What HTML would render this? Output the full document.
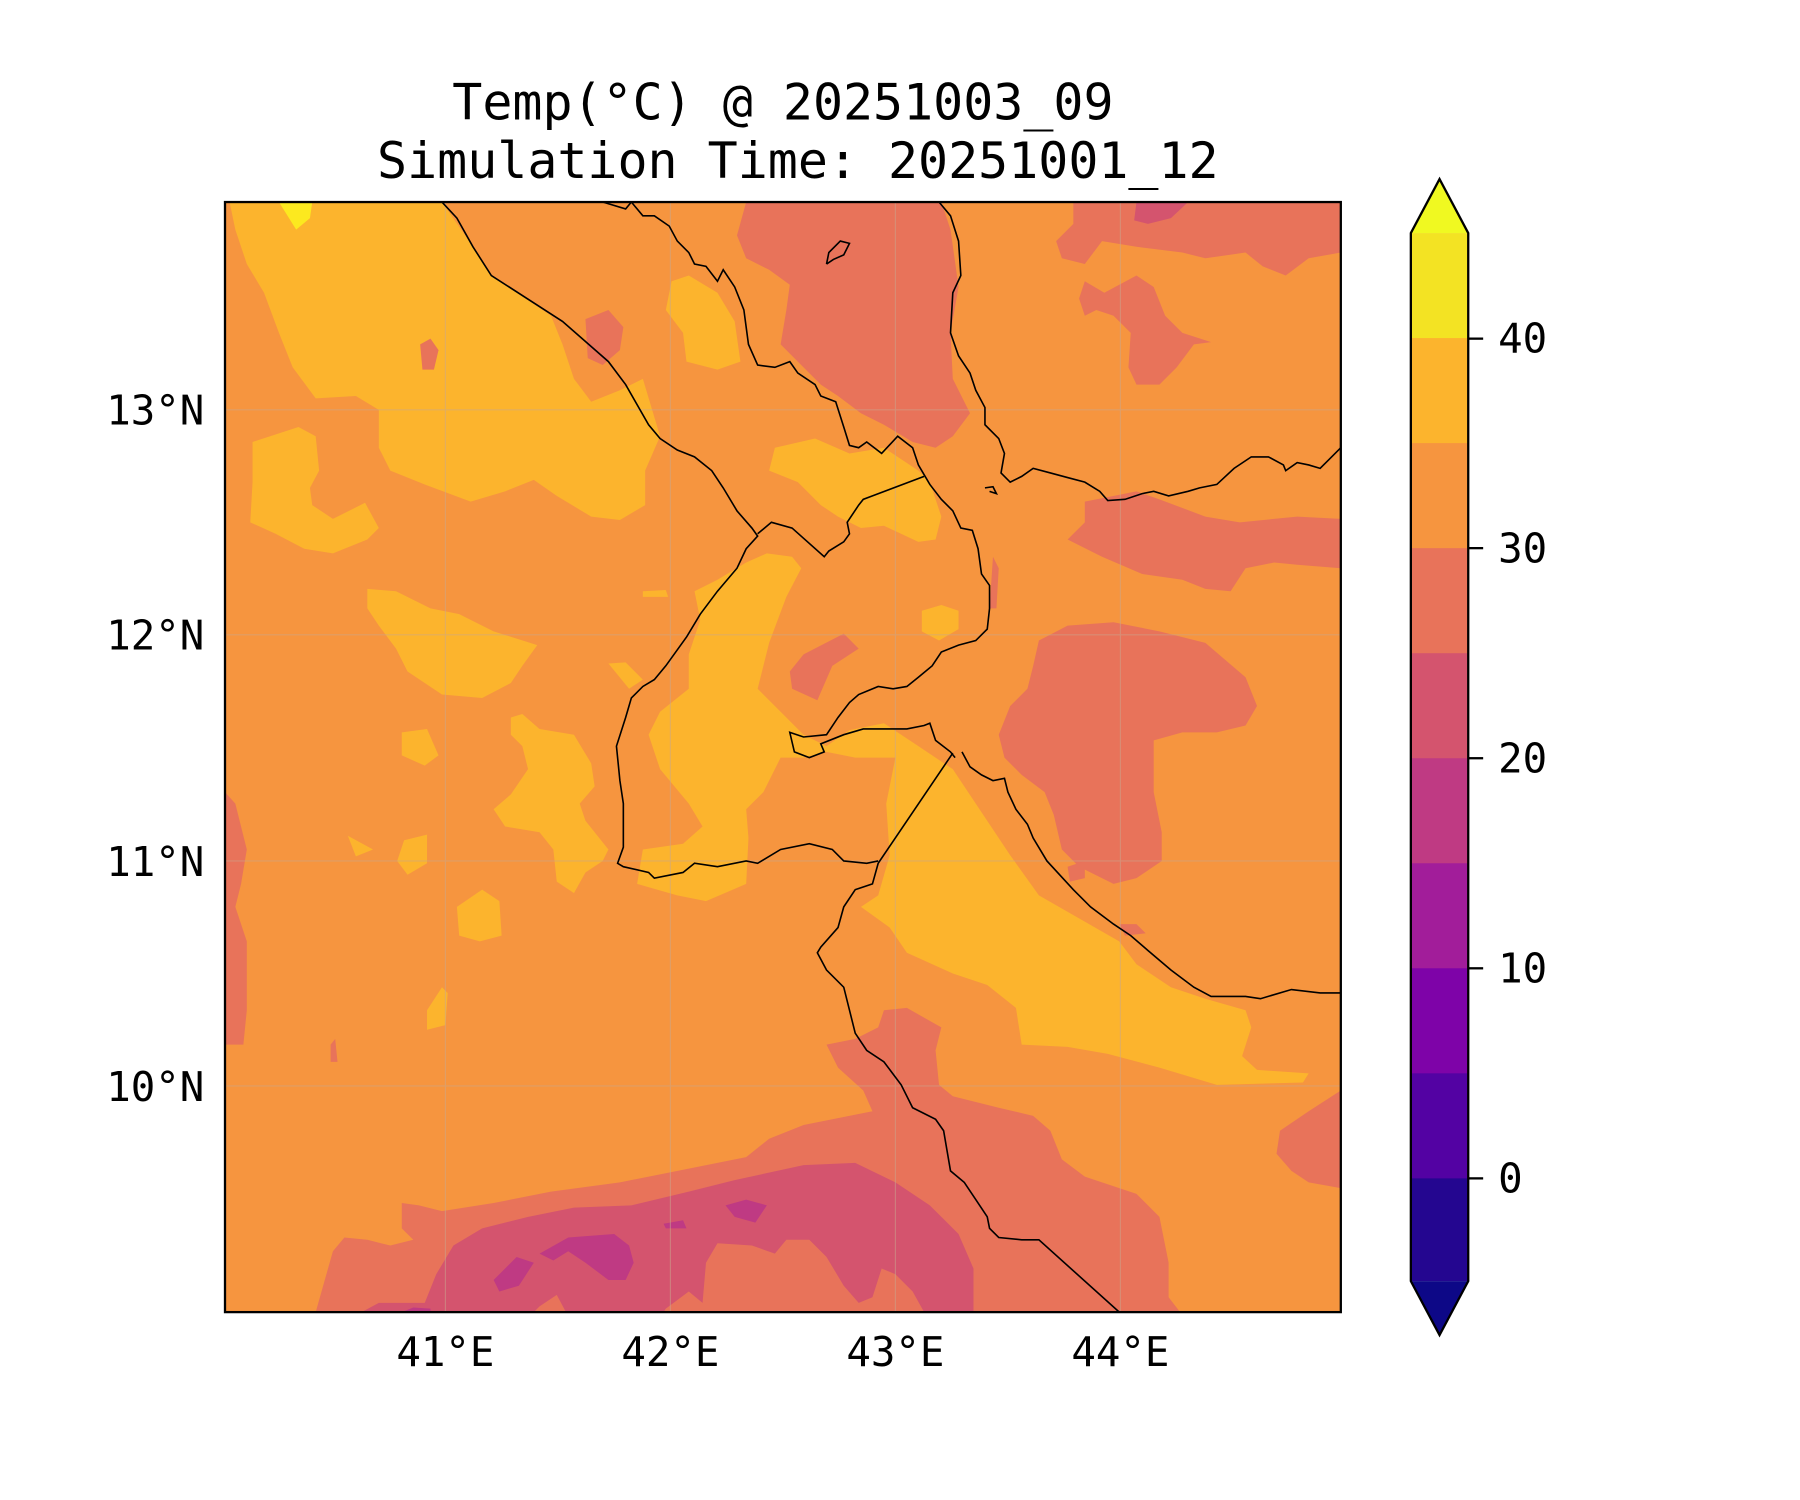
<!DOCTYPE html>
<html><head><meta charset="utf-8"><style>html,body{margin:0;padding:0;background:#fff}svg{display:block}</style></head><body>
<svg width="1800" height="1500" viewBox="0 0 1568 1306.67" preserveAspectRatio="none" xmlns="http://www.w3.org/2000/svg" font-family="DejaVu Sans Mono, Liberation Mono, monospace">
<rect width="1568" height="1307" fill="#fff"/>
<text x="682" y="104" font-size="43.5" text-anchor="middle">Temp(°C) @ 20251003_09</text>
<text x="695" y="155" font-size="43.5" text-anchor="middle">Simulation Time: 20251001_12</text>
<defs><clipPath id="c"><rect x="196" y="176" width="972" height="967"/></clipPath></defs>
<g clip-path="url(#c)">
<rect x="196" y="176" width="972" height="967" fill="#f6953f"/>
<g fill="#fcb42d">
<polygon points="200,176 385,176 412,215 428,240 480,275 490,300 500,330 515,350 540,340 560,330 575,380 562,410 562,440 540,453 515,450 485,432 465,418 440,428 410,437 370,422 340,410 330,390 330,357 310,345 275,347 255,320 243,290 230,255 215,230 205,200"/>
<polygon points="585,245 600,240 625,255 640,280 645,315 625,322 598,315 595,290 580,270"/>
<polygon points="220,385 260,372 275,380 278,410 270,425 272,440 290,452 318,438 330,460 320,470 290,482 265,478 240,465 218,455 220,420"/>
<polygon points="320,513 345,515 375,530 400,535 430,550 468,562 455,580 445,595 420,608 385,605 355,585 345,565 330,545 320,530"/>
<polygon points="675,390 710,382 740,395 770,390 800,410 810,420 820,450 815,470 800,472 770,458 750,460 730,450 715,440 695,420 670,410"/>
<polygon points="605,515 625,505 650,490 668,482 690,485 698,495 685,520 670,560 660,600 680,620 700,640 720,650 740,636 770,630 800,650 830,670 850,700 880,745 905,780 940,800 975,820 990,840 1020,860 1050,870 1085,880 1090,895 1082,920 1095,932 1140,935 1135,943 1060,945 1010,930 965,918 930,912 890,910 885,878 860,858 830,848 790,830 775,808 750,790 765,780 775,745 772,700 780,660 745,660 720,655 700,660 680,660 665,690 650,705 652,730 650,770 615,785 590,780 555,770 560,740 595,735 612,720 600,700 575,670 565,640 575,620 600,600 600,570 610,540"/>
<polygon points="445,625 455,622 470,635 500,640 515,665 518,685 505,700 510,715 530,740 525,750 510,760 500,778 485,768 482,740 470,725 440,720 430,705 445,692 460,670 455,650 445,640"/>
<polygon points="350,638 372,635 382,658 370,667 350,658"/>
<polygon points="352,732 372,727 372,752 355,762 346,750"/>
<polygon points="398,790 420,775 435,785 437,815 418,820 400,815"/>
<polygon points="303,728 325,740 310,746"/>
<polygon points="372,880 385,860 390,865 388,893 372,897"/>
<polygon points="530,578 545,577 560,592 548,600"/>
<polygon points="560,515 580,514 582,520 560,520"/>
<polygon points="803,532 820,527 835,532 835,548 818,558 803,550"/>
<polygon points="1070,190 1090,182 1113,190 1113,210 1090,215"/>
</g>
<g fill="#fce91f"><polygon points="243,176 272,176 270,190 258,200"/></g>
<g fill="#e8735a">
<polygon points="650,176 820,176 828,200 835,250 828,290 830,330 845,360 830,380 815,390 795,385 770,370 750,360 730,345 715,335 700,320 680,300 685,270 688,248 670,235 650,225 642,205"/>
<polygon points="935,176 1168,176 1168,220 1140,225 1120,240 1100,232 1085,220 1050,225 1030,220 990,215 960,210 945,230 925,225 920,210 935,195"/>
<polygon points="945,245 962,255 990,240 1005,250 1015,275 1030,290 1055,298 1040,300 1025,320 1010,335 990,335 983,320 985,290 970,275 955,270 945,275 940,260"/>
<polygon points="945,437 990,428 1010,435 1050,450 1080,455 1130,450 1168,452 1168,495 1130,492 1110,490 1085,495 1072,515 1050,513 1030,505 995,500 960,485 930,470 945,455"/>
<polygon points="905,558 930,545 970,542 1010,550 1050,560 1085,590 1095,615 1085,632 1060,638 1030,638 1005,645 1005,690 1012,725 1012,750 990,765 970,770 940,755 925,740 918,710 910,690 890,675 875,660 870,640 880,615 895,600 900,580"/>
<polygon points="196,690 205,700 215,740 210,770 205,790 215,820 215,880 212,910 196,910"/>
<polygon points="275,1143 290,1090 300,1078 320,1080 340,1085 360,1080 350,1070 350,1048 365,1050 385,1055 430,1048 480,1038 540,1030 600,1018 650,1008 670,992 700,980 760,968 752,950 730,930 720,910 745,905 765,895 770,880 790,878 820,895 815,915 818,945 830,955 870,965 900,972 915,985 925,1010 945,1025 990,1040 1010,1060 1018,1100 1018,1130 1028,1143"/>
<polygon points="1168,950 1140,968 1115,985 1112,1005 1125,1020 1140,1030 1168,1035"/>
<polygon points="510,278 530,270 543,285 540,305 525,318 512,312"/>
<polygon points="688,585 700,570 735,552 748,565 725,580 712,610 690,600"/>
<polygon points="366,300 375,295 382,305 378,322 368,322"/>
<polygon points="865,485 870,495 868,530 862,530"/>
<polygon points="930,755 945,750 945,765 932,768"/>
<polygon points="975,805 990,805 998,813 980,815"/>
<polygon points="288,910 292,905 294,925 288,925"/>
</g>
<g fill="#d4546e">
<polygon points="315,1143 330,1135 370,1135 380,1110 395,1085 420,1070 460,1060 500,1052 550,1050 600,1038 640,1028 700,1015 745,1013 780,1030 810,1050 835,1075 848,1105 848,1143 805,1143 795,1125 780,1110 768,1105 760,1130 748,1135 735,1120 720,1095 705,1080 685,1080 675,1092 655,1085 625,1083 615,1100 612,1135 600,1125 580,1140 578,1143 493,1143 485,1128 470,1138 465,1143"/>
<polygon points="990,176 1035,176 1020,190 1000,195 988,192"/>
</g>
<g fill="#bf3a83">
<polygon points="430,1115 450,1095 465,1100 452,1120 435,1125"/>
<polygon points="470,1092 495,1078 535,1075 548,1085 552,1100 545,1115 530,1115 510,1100 495,1090 482,1098"/>
<polygon points="632,1050 650,1045 668,1050 658,1065 640,1060"/>
<polygon points="578,1066 595,1063 598,1070 580,1070"/>
<polygon points="350,1143 360,1139 375,1140 375,1143"/>
</g>
<g stroke="#c8a890" stroke-width="1" opacity="0.5">
<line x1="388" y1="176" x2="388" y2="1143"/><line x1="584" y1="176" x2="584" y2="1143"/><line x1="780" y1="176" x2="780" y2="1143"/><line x1="976" y1="176" x2="976" y2="1143"/>
<line x1="196" y1="357" x2="1168" y2="357"/><line x1="196" y1="553" x2="1168" y2="553"/><line x1="196" y1="750" x2="1168" y2="750"/><line x1="196" y1="946" x2="1168" y2="946"/>
</g>
<g fill="none" stroke="#000" stroke-width="1.4">
<polyline points="385,176 398,190 412,215 428,240 490,280 530,315 545,335 565,370 575,382 590,392 605,398 620,410 630,425 642,445 655,460 660,467 650,478 642,495 625,515 610,535 598,555 580,580 570,592 560,598 550,608 545,625 537,650 540,680 543,700 543,738 538,752 543,755 565,760 570,765 595,760 605,752 625,755 650,750 660,752 680,740 705,735 725,740 735,750 755,752 765,750"/>
<polyline points="660,465 672,455 690,460 718,485 722,480 735,472 740,465 738,455 748,440 752,435 760,432 805,415"/>
<polyline points="525,176 545,182 550,176"/>
<polyline points="550,176 560,188 570,188 583,197 590,210 600,220 605,230 615,232 625,245 630,235 640,250 648,270 652,300 660,318 675,320 688,315 695,325 710,335 715,345 728,350 735,372 740,388 748,390 755,385 768,395 782,380 795,390 800,405 810,422 820,435 830,445 837,460 847,462 852,478 855,500 862,510 862,530 860,548 850,558 835,562 820,568 812,580 800,590 790,598 778,600 765,598 748,605 740,612 730,625 720,640 700,642 688,638 692,655 705,660 718,655 715,648 735,640 752,635 790,635 805,632 810,630 815,645 828,655 832,660"/>
<polyline points="830,656 765,752 760,770 745,775 735,790 730,808 715,825 712,830 720,845 735,860 740,880 745,900 755,915 770,925 785,945 795,965 815,975 822,985 828,1020 840,1030 850,1045 860,1060 862,1070 870,1078 890,1080 905,1080 975,1143"/>
<polyline points="838,655 845,668 855,675 865,680 875,678 878,690 885,705 895,718 900,730 912,750 935,775 950,790 970,805 985,815 1000,828 1020,845 1040,860 1055,868 1085,868 1098,870 1125,862 1150,865 1168,865"/>
<polyline points="818,176 828,188 835,210 837,240 830,255 828,290 835,310 845,325 850,340 858,355 858,370 870,382 875,395 872,412 880,420 890,415 900,408 915,412 930,416 945,420 958,428 965,436 980,435 995,430 1005,428 1018,432 1035,428 1045,425 1060,422 1075,408 1090,398 1105,398 1118,405 1120,410 1130,403 1140,405 1150,408 1158,400 1168,390"/>
<polyline points="720,230 722,220 732,210 740,212 735,222 726,226 720,230"/>
<polyline points="858,425 865,424 868,430 862,428"/>
</g>
</g>
<rect x="196" y="176" width="972" height="967" fill="none" stroke="#000" stroke-width="2"/>
<g font-size="35.5" fill="#000">
<text x="178" y="370" text-anchor="end">13°N</text>
<text x="178" y="566" text-anchor="end">12°N</text>
<text x="178" y="763" text-anchor="end">11°N</text>
<text x="178" y="959" text-anchor="end">10°N</text>
<text x="388" y="1190" text-anchor="middle">41°E</text>
<text x="584" y="1190" text-anchor="middle">42°E</text>
<text x="780" y="1190" text-anchor="middle">43°E</text>
<text x="976" y="1190" text-anchor="middle">44°E</text>
</g>
<g>
<polygon points="1229,203 1254,156 1279,203" fill="#f0f921"/>
<rect x="1229" y="203" width="50" height="92" fill="#f3e323"/>
<rect x="1229" y="294.5" width="50" height="92" fill="#fcb42d"/>
<rect x="1229" y="386" width="50" height="92" fill="#f6953f"/>
<rect x="1229" y="477.5" width="50" height="92" fill="#e8735a"/>
<rect x="1229" y="569" width="50" height="92" fill="#d4546e"/>
<rect x="1229" y="660.5" width="50" height="92" fill="#bf3a83"/>
<rect x="1229" y="752" width="50" height="92" fill="#a21d9a"/>
<rect x="1229" y="843.5" width="50" height="92" fill="#7e03a8"/>
<rect x="1229" y="935" width="50" height="92" fill="#5302a3"/>
<rect x="1229" y="1026.5" width="50" height="89.5" fill="#240690"/>
<polygon points="1229,1116 1254,1163 1279,1116" fill="#0d0887"/>
<polygon points="1229,203 1254,156 1279,203 1279,1116 1254,1163 1229,1116" fill="none" stroke="#000" stroke-width="2"/>
<g stroke="#000" stroke-width="2"><line x1="1279" y1="295" x2="1292" y2="295"/><line x1="1279" y1="477.5" x2="1292" y2="477.5"/><line x1="1279" y1="660.5" x2="1292" y2="660.5"/><line x1="1279" y1="843.5" x2="1292" y2="843.5"/><line x1="1279" y1="1026.5" x2="1292" y2="1026.5"/></g>
<g font-size="35.5"><text x="1305" y="307">40</text><text x="1305" y="490">30</text><text x="1305" y="673">20</text><text x="1305" y="856">10</text><text x="1305" y="1039">0</text></g>
</g>
</svg>
</body></html>
